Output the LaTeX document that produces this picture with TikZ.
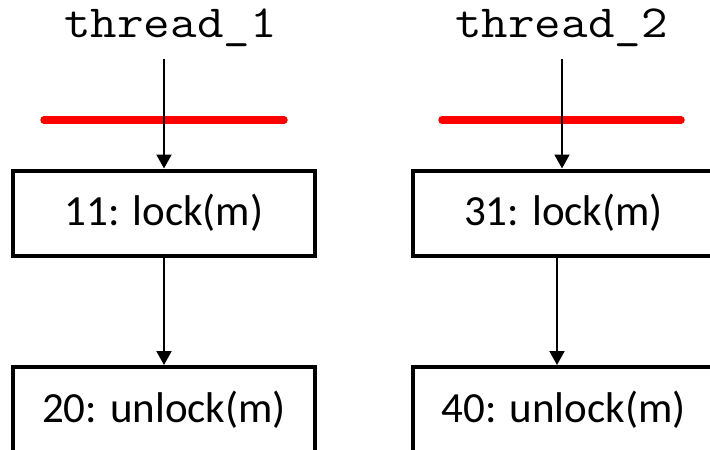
\documentclass[tikz,border=0pt]{standalone}
\usepackage{fontspec}
\usetikzlibrary{arrows.meta}
\newfontfamily\boxfont{Carlito}
% monospaced thread labels, widened a little
\newcommand{\threadlabel}[1]{\scalebox{1.12}[1]{#1}}
\tikzset{
  threadname/.style={font=\ttfamily\fontsize{46}{50}\selectfont, anchor=base, inner sep=0pt},
  stmt/.style={draw, line width=4pt, minimum width=302pt, minimum height=85pt, inner sep=0pt,
               font=\boxfont\fontsize{43}{50}\selectfont},
  flow/.style={line width=2pt, -{Triangle[width=15pt,length=14pt]}},
  barrier/.style={draw=red, line width=7.5pt, line cap=round}
}
\begin{document}
\begin{tikzpicture}[x=1pt,y=-1pt]
  \useasboundingbox (0,0) rectangle (710,450);
  \clip (0,0) rectangle (710,450);

  % thread names
  \node[threadname] (t1) at (170.5,37) {\threadlabel{thread\_1}};
  \node[threadname] (t2) at (561.5,37) {\threadlabel{thread\_2}};

  % statements
  \node[stmt] (b1) at (164,213) {11: lock(m)};
  \node[stmt] (b2) at (164,409.5) {20: unlock(m)};
  \node[stmt] (b3) at (563.5,213) {31: lock(m)};
  \node[stmt] (b4) at (563.5,409.5) {40: unlock(m)};

  % barriers
  \coordinate (r1a) at (44,120);  \coordinate (r1b) at (284,120);
  \coordinate (r2a) at (442,120); \coordinate (r2b) at (681,120);
  \draw[barrier] (r1a) -- (r1b);
  \draw[barrier] (r2a) -- (r2b);

  % flow edges
  \coordinate (s1) at (164,59);
  \coordinate (s2) at (562,59);
  \draw[flow] (s1) -- (b1.north);
  \draw[flow] (s2) -- ([xshift=-1.5pt]b3.north);
  \draw[flow] (b1.south) -- (b2.north);
  \draw[flow] ([xshift=-6.5pt]b3.south) -- ([xshift=-6.5pt]b4.north);
\end{tikzpicture}
\end{document}
